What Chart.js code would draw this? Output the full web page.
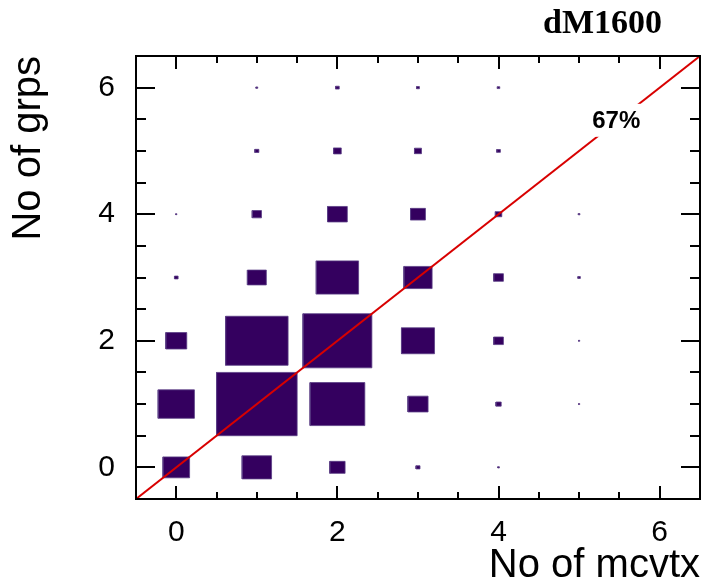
<!DOCTYPE html>
<html>
<head>
<meta charset="utf-8">
<script src="https://cdn.jsdelivr.net/npm/chart.js@4.4.0/dist/chart.umd.min.js"></script>
<style>
html,body{margin:0;padding:0;background:#fff;}
#wrap{width:705px;height:583px;position:relative;}
</style>
</head>
<body>
<div id="wrap"><canvas id="c" width="705" height="583"></canvas></div>
<script>
// ---- data ----
const xBins = [0, 1, 2, 3, 4, 5, 6];          // No of mcvtx
const yBins = [0, 1, 2, 3, 4, 5, 6];          // No of grps
// bin contents, one array per "No of grps" row, indexed by "No of mcvtx"
const grps0 = [33,   36.5, 19,   5,    2,    0,   0];
const grps1 = [45,   100,  68,   25,   6.5,  1.5, 0];
const grps2 = [26,   77.5, 85.5, 41,   12,   1.5, 0];
const grps3 = [4.5,  23.5, 52.5, 35,   12,   3,   0];
const grps4 = [1.5,  11.5, 24.5, 18.5, 8,    2,   0];
const grps5 = [0,    5,    9.5,  8.7,  4.5,  0,   0];
const grps6 = [0,    2.2,  4.5,  3.5,  3,    0,   0];
const xTickValues = [0, 2, 4, 6];
const yTickValues = [0, 2, 4, 6];
const diagonalEnds = [-0.5, 6.5];
const diagonalLabel = '67%';
const diagonalLabelAt = 5.46;
const chartTitle = 'dM1600';
const xTitle = 'No of mcvtx';
const yTitle = 'No of grps';

// ---- styles ----
const BOX = '#34005f';
const BOX_EDGE = '#5a3d85';
const RED = '#d80000';
const SANS = "'Liberation Sans', Arial, Helvetica, sans-serif";
const SERIF = "'Liberation Serif', 'Times New Roman', serif";

const rows = [grps0, grps1, grps2, grps3, grps4, grps5, grps6];
const cells = [];
rows.forEach((row, yi) => row.forEach((v, xi) => {
  if (v > 0) cells.push({ x: xBins[xi], y: yBins[yi], v });
}));
const vmax = Math.max(...cells.map(c => c.v));

const boxDatasets = cells.map(c => {
  const h = 0.5 * c.v / vmax;
  return {
    type: 'scatter',
    data: [
      { x: c.x - h, y: c.y - h }, { x: c.x + h, y: c.y - h },
      { x: c.x + h, y: c.y + h }, { x: c.x - h, y: c.y + h },
      { x: c.x - h, y: c.y - h }
    ],
    showLine: true,
    fill: 'shape',
    backgroundColor: BOX,
    borderColor: BOX_EDGE,
    borderWidth: 0.8,
    pointRadius: 0,
    pointHoverRadius: 0,
    tension: 0,
    order: 2
  };
});

const diagDataset = {
  type: 'scatter',
  data: diagonalEnds.map(v => ({ x: v, y: v })),
  showLine: true,
  fill: false,
  borderColor: RED,
  borderWidth: 2,
  pointRadius: 0,
  order: 1
};

const labelPlugin = {
  id: 'diagLabel',
  afterDatasetsDraw(chart) {
    const { ctx, scales: { x, y } } = chart;
    const px = x.getPixelForValue(diagonalLabelAt);
    const py = y.getPixelForValue(diagonalLabelAt);
    ctx.save();
    ctx.font = 'bold 24px ' + SANS;
    const w = ctx.measureText(diagonalLabel).width;
    ctx.fillStyle = '#fff';
    ctx.fillRect(px - w / 2 - 3, py - 18, w + 6, 33);
    ctx.fillStyle = '#000';
    ctx.textAlign = 'center';
    ctx.textBaseline = 'middle';
    ctx.fillText(diagonalLabel, px, py);
    ctx.restore();
  }
};

const framePlugin = {
  id: 'frame',
  afterDraw(chart) {
    const { ctx, chartArea: a, scales: { x, y } } = chart;
    ctx.save();
    ctx.strokeStyle = '#000';
    ctx.lineWidth = 2;
    ctx.beginPath();
    // x ticks (bottom and top, pointing inward)
    for (let v = x.min; v <= x.max + 1e-9; v += 0.5) {
      const p = Math.round(x.getPixelForValue(v));
      const len = xTickValues.includes(v) ? 13 : 7;
      ctx.moveTo(p, a.bottom); ctx.lineTo(p, a.bottom - len);
      ctx.moveTo(p, a.top); ctx.lineTo(p, a.top + len);
    }
    for (let v = y.min; v <= y.max + 1e-9; v += 0.5) {
      const p = Math.round(y.getPixelForValue(v));
      const len = yTickValues.includes(v) ? 19 : 10;
      ctx.moveTo(a.left, p); ctx.lineTo(a.left + len, p);
      ctx.moveTo(a.right, p); ctx.lineTo(a.right - len, p);
    }
    ctx.stroke();
    ctx.strokeRect(a.left, a.top, a.right - a.left, a.bottom - a.top);
    // title
    ctx.fillStyle = '#000';
    ctx.font = 'bold 34px ' + SERIF;
    ctx.textAlign = 'right';
    ctx.textBaseline = 'alphabetic';
    ctx.fillText(chartTitle, 662, 33);
    ctx.restore();
  }
};

new Chart(document.getElementById('c'), {
  type: 'scatter',
  data: { datasets: [diagDataset, ...boxDatasets] },
  options: {
    responsive: false,
    animation: false,
    devicePixelRatio: 1,
    layout: { padding: { top: 56, right: 5, left: 0, bottom: 0 } },
    plugins: { legend: { display: false }, tooltip: { enabled: false }, title: { display: false } },
    events: [],
    scales: {
      x: {
        type: 'linear', position: 'bottom', min: -0.5, max: 6.5,
        afterBuildTicks: s => { s.ticks = xTickValues.map(v => ({ value: v })); },
        afterFit: s => { s.height = 84; },
        grid: { display: false }, border: { display: false },
        ticks: { color: '#000', font: { family: SANS, size: 30 }, padding: 8, maxRotation: 0, autoSkip: false },
        title: { display: true, text: xTitle, align: 'end', color: '#000',
                 font: { family: SANS, size: 40, lineHeight: 0.85 }, padding: { top: 0, bottom: 0 } }
      },
      y: {
        type: 'linear', position: 'left', min: -0.5, max: 6.5,
        afterBuildTicks: s => { s.ticks = yTickValues.map(v => ({ value: v })); },
        afterFit: s => { s.width = 136; },
        grid: { display: false }, border: { display: false },
        ticks: { color: '#000', font: { family: SANS, size: 30 }, padding: 13, autoSkip: false },
        title: { display: true, text: yTitle, align: 'end', color: '#000',
                 font: { family: SANS, size: 40, lineHeight: 0.85 }, padding: { top: 12, bottom: 0 } }
      }
    }
  },
  plugins: [labelPlugin, framePlugin]
});
</script>
</body>
</html>
